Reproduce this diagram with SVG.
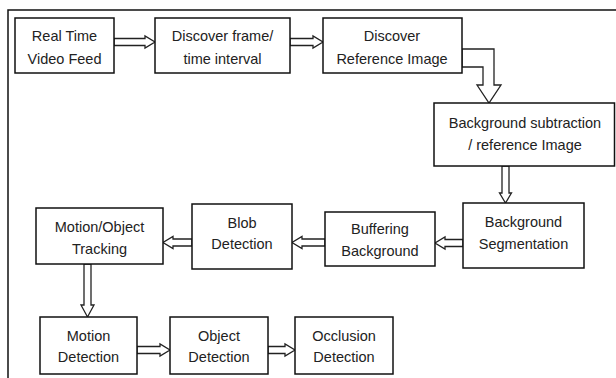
<svg xmlns="http://www.w3.org/2000/svg" width="616" height="378" viewBox="0 0 616 378">
<style>
.box{fill:#fff;stroke:#111;stroke-width:1.5}
.arr{fill:#fff;stroke:#222;stroke-width:1.3;stroke-linejoin:miter}
text{font-family:"Liberation Sans",Arial,sans-serif;font-size:14.5px;fill:#222;text-anchor:middle}
.frame{fill:none;stroke:#111;stroke-width:1.5}
</style>
<rect width="616" height="378" fill="#fff"/>
<path class="frame" d="M8,378 V10 H616"/>
<g id="connectors">
<polygon class="arr" points="114,38.5 145,38.5 145,36 155,42 145,48 145,45.5 114,45.5"/>
<polygon class="arr" points="290,38.5 313,38.5 313,36 323,42 313,48 313,45.5 290,45.5"/>
<polygon class="arr" points="462,49 494,49 494,85 501,85 489,103 477,85 483,85 483,67 462,67"/>
<polygon class="arr" points="502,166 509,166 509,193 511.5,193 505.5,203 499.5,193 502,193"/>
<polygon class="arr" points="463,239.5 445,239.5 445,237 435,243 445,249 445,246.5 463,246.5"/>
<polygon class="arr" points="325,239 302,239 302,236.5 292,242.5 302,248.5 302,246 325,246"/>
<polygon class="arr" points="192,239 173,239 173,236.5 163,242.5 173,248.5 173,246 192,246"/>
<polygon class="arr" points="84,264 91,264 91,305 94,305 87.5,317 81,305 84,305"/>
<polygon class="arr" points="137,346.5 160,346.5 160,344 170,350 160,356 160,353.5 137,353.5"/>
<polygon class="arr" points="268,346.5 285,346.5 285,344 295,350 285,356 285,353.5 268,353.5"/>
</g>
<g id="n1"><rect class="box" x="15" y="18" width="99" height="55"/><text x="64.5" y="40.5">Real Time</text><text x="64.5" y="63.5">Video Feed</text></g>
<g id="n2"><rect class="box" x="155" y="18" width="135" height="55"/><text x="222.5" y="40.5">Discover frame/</text><text x="222.5" y="63.5">time interval</text></g>
<g id="n3"><rect class="box" x="323" y="18" width="139" height="55"/><text x="392" y="40.5">Discover</text><text x="392" y="63.5">Reference Image</text></g>
<g id="n4"><rect class="box" x="434" y="103" width="180.5" height="63"/><text x="525" y="127.5">Background subtraction</text><text x="525" y="149.5">/ reference Image</text></g>
<g id="n5"><rect class="box" x="463" y="203" width="121" height="65"/><text x="523.5" y="227">Background</text><text x="523.5" y="248.5">Segmentation</text></g>
<g id="n6"><rect class="box" x="325" y="212" width="110" height="54"/><text x="380" y="234">Buffering</text><text x="380" y="256">Background</text></g>
<g id="n7"><rect class="box" x="192" y="204" width="100" height="65"/><text x="242" y="228">Blob</text><text x="242" y="249">Detection</text></g>
<g id="n8"><rect class="box" x="36" y="208" width="127" height="56"/><text x="99.5" y="232">Motion/Object</text><text x="99.5" y="254">Tracking</text></g>
<g id="n9"><rect class="box" x="40" y="317" width="97" height="57"/><text x="88.5" y="341">Motion</text><text x="88.5" y="362">Detection</text></g>
<g id="n10"><rect class="box" x="170" y="317" width="98" height="57"/><text x="219" y="341">Object</text><text x="219" y="362">Detection</text></g>
<g id="n11"><rect class="box" x="295" y="317" width="98" height="57"/><text x="344" y="341">Occlusion</text><text x="344" y="362">Detection</text></g>
</svg>
